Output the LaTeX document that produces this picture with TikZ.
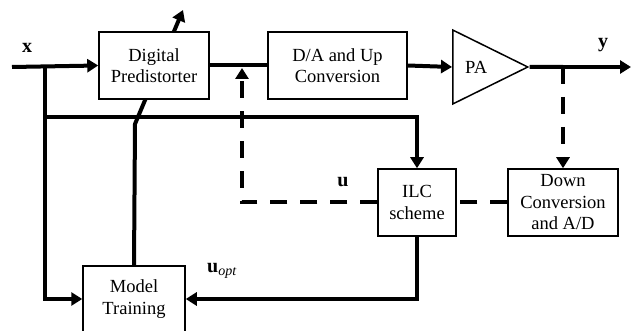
\documentclass[tikz,border=0pt]{standalone}
\usepackage{fontspec}
\setmainfont{Liberation Serif}
\usepackage{tikz}
\usetikzlibrary{shapes.geometric}
\usetikzlibrary{arrows.meta}
\usetikzlibrary{backgrounds}
\tikzstyle{block}=[rectangle,draw=black,line width=1.5pt,fill=white,align=center,inner sep=1pt,font=\rmfamily\fontsize{18.5}{21.5}\selectfont]
\tikzstyle{sig}=[line width=4pt]
\tikzstyle{arrow}=[sig,-{Triangle[length=11pt,width=13pt]}]
\tikzstyle{fb}=[sig,dash pattern=on 17pt off 13pt]
\tikzstyle{lbl}=[font=\rmfamily\fontsize{20}{24}\selectfont\bfseries]
\begin{document}
\begin{tikzpicture}[x=1pt,y=-1pt]
      \useasboundingbox (0,0) rectangle (632,331);
      \node[block,minimum width=110pt,minimum height=67pt] at (154,65.5) (dpd) {Digital\\Predistorter};
      \node[block,minimum width=139pt,minimum height=67pt] at (337.5,65.5) (dac) {D/A and Up\\Conversion};
      \node[block,isosceles triangle,isosceles triangle stretches,minimum width=74pt,minimum height=75pt,inner sep=0pt,anchor=west] at (452,67) (pa) {PA};
      \node[block,minimum width=78pt,minimum height=67pt] at (417,202.5) (ilc) {ILC\\scheme};
      \node[block,minimum width=110pt,minimum height=67pt] at (563,202.5) (dad) {Down\\Conversion\\and A/D};
      \node[block,minimum width=102pt,minimum height=66pt] at (134,299) (mt) {Model\\Training};
      \node[lbl] at (27,48) (xl) {x};
      \node[lbl] at (603,45) (yl) {y};
      \node[lbl] at (343,182) (ul) {u};
      \node[lbl] at (222,271) (uoptl) {u$_{\mathit{opt}}$};
      \coordinate (xin) at (12,67);
      \coordinate (xsplit) at (45,67);
      \coordinate (xtap) at (45,117);
      \coordinate (bend) at (135,124);
      \coordinate (adj) at (183,10);
      \coordinate (ysplit) at (563,67);
      \coordinate (yout) at (631,67);
      \coordinate (ujoin) at (242,68);
      \draw[arrow] (xin)--(dpd.west);
      \draw[arrow] (xsplit)|-(mt.west);
      \draw[arrow] (xtap)-|(ilc.north);
      \draw[arrow] (ilc.south)|-(mt.east);
      \begin{pgfonlayer}{background}
        \draw[arrow] (mt.north)--(bend)--(adj);
      \end{pgfonlayer}
      \draw[sig] (dpd.east)--(dac.west);
      \draw[arrow] (dac.east)--(pa.west);
      \draw[sig] (pa.apex)--(ysplit);
      \draw[arrow] (ysplit)--(yout);
      \draw[fb,-{Triangle[length=11pt,width=13pt]}] (ysplit)--(dad.north);
      \draw[fb] (dad.west)--(ilc.east);
      \draw[fb,-{Triangle[length=11pt,width=13pt]}] (ilc.west)-|(ujoin);
    \end{tikzpicture}
\end{document}
